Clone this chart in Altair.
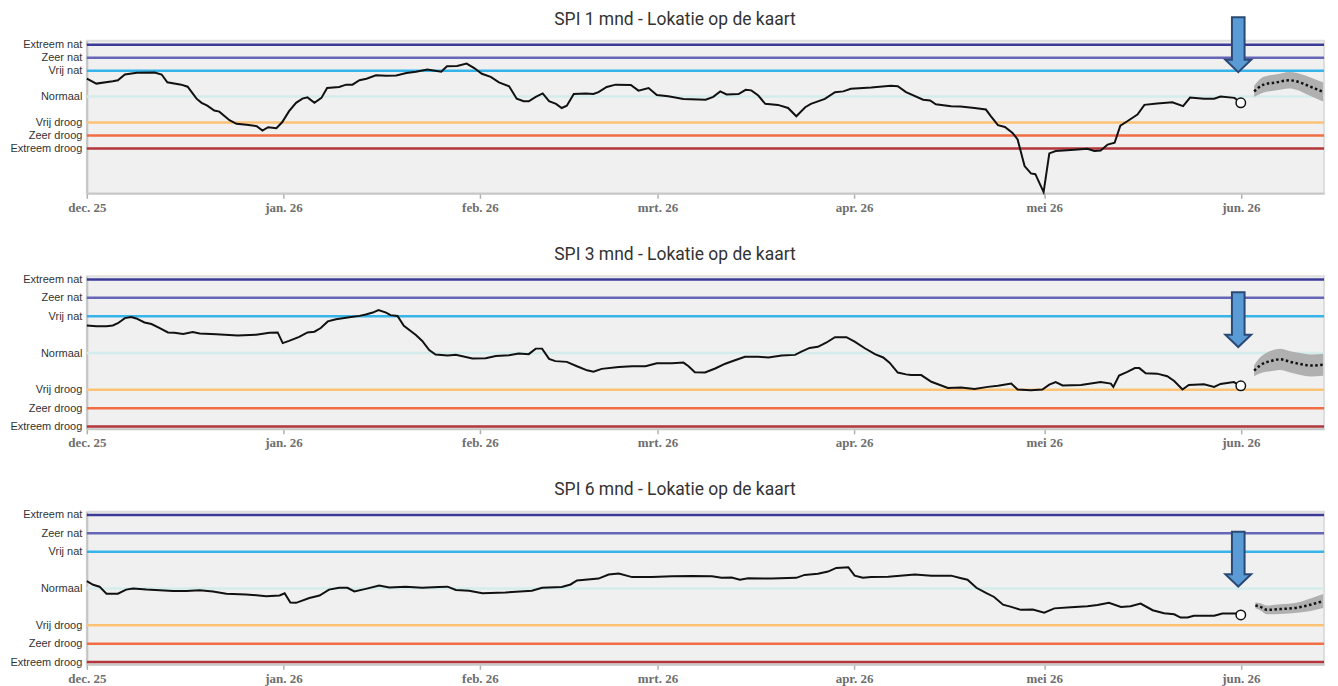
import altair as alt
import pandas as pd

# ---------------- data ----------------
START = "2025-12-01"

CLASS_LABELS = ["Extreem nat", "Zeer nat", "Vrij nat", "Normaal", "Vrij droog", "Zeer droog", "Extreem droog"]
CLASS_VALUES = [2.0, 1.5, 1.0, 0.0, -1.0, -1.5, -2.0]
CLASS_COLORS = ["#3b3b97", "#6666b6", "#36b3e8", "#d4ecec", "#fdc274", "#f26c44", "#b2363b"]

MONTH_TICKS = ["2025-12", "2026-01", "2026-02", "2026-03", "2026-04", "2026-05", "2026-06"]
MONTH_LABELS = ["dec. 25", "jan. 26", "feb. 26", "mrt. 26", "apr. 26", "mei 26", "jun. 26"]

TITLES = ["SPI 1 mnd - Lokatie op de kaart", "SPI 3 mnd - Lokatie op de kaart", "SPI 6 mnd - Lokatie op de kaart"]

# days since 1 Dec 2025
SPI1_DAY = [0, 1.5, 4.1, 4.9, 6.0, 7.9, 10.7, 11.8, 12.7, 14.9,
            15.9, 17.3, 18.1, 19.0, 20.1, 20.9, 22.5, 23.6, 25.2, 26.8,
            27.7, 28.6, 29.9, 30.8, 31.9, 33.0, 34.0, 34.8, 35.9, 37.0,
            37.9, 39.8, 40.9, 41.9, 43.0, 44.1, 45.6, 47.2, 48.8, 50.4,
            51.9, 53.7, 55.9, 56.8, 58.4, 59.9, 61.1, 62.3, 63.7, 65.0,
            66.6, 67.8, 68.9, 69.7, 70.8, 71.9, 72.9, 74.0, 74.9, 75.7,
            76.8, 78.7, 79.9, 80.7, 82.0, 83.4, 85.8, 87.0, 88.6, 89.9,
            91.7, 94.1, 97.6, 98.8, 99.9, 100.9, 102.8, 103.9, 104.8, 105.9,
            107.0, 109.0, 110.6, 111.9, 113.3, 114.2, 116.4, 118.0, 119.3, 120.5,
            123.7, 126.8, 127.9, 129.2, 131.9, 133.0, 133.9, 136.3, 137.8, 140.0,
            141.8, 142.6, 143.7, 144.8, 146.0, 146.8, 147.9, 148.9, 149.6, 150.9,
            151.8, 152.8, 155.2, 157.8, 158.9, 159.9, 161.0, 162.1, 163.0, 164.1,
            165.7, 166.8, 168.8, 171.2, 172.9, 174.0, 176.2, 177.8, 178.8, 181.0,
            182.0]
SPI1_VAL = [0.69, 0.50, 0.59, 0.63, 0.85, 0.92, 0.93, 0.85, 0.55, 0.46,
            0.38, -0.08, -0.24, -0.35, -0.54, -0.58, -0.91, -1.05, -1.09, -1.14,
            -1.31, -1.18, -1.22, -0.99, -0.56, -0.24, -0.08, -0.03, -0.24, -0.05,
            0.33, 0.37, 0.46, 0.46, 0.63, 0.69, 0.82, 0.80, 0.81, 0.91,
            0.96, 1.04, 0.96, 1.17, 1.18, 1.27, 1.10, 0.88, 0.76, 0.55,
            0.40, -0.08, -0.18, -0.18, -0.01, 0.12, -0.18, -0.28, -0.44, -0.35,
            0.10, 0.12, 0.10, 0.17, 0.37, 0.46, 0.45, 0.23, 0.33, 0.06,
            0.01, -0.09, -0.12, -0.01, 0.20, 0.08, 0.10, 0.26, 0.24, 0.04,
            -0.28, -0.32, -0.44, -0.76, -0.41, -0.28, -0.09, 0.17, 0.20, 0.30,
            0.35, 0.42, 0.40, 0.17, -0.12, -0.15, -0.30, -0.37, -0.38, -0.44,
            -0.50, -0.76, -1.10, -1.17, -1.40, -1.65, -2.68, -2.96, -2.99, -3.68,
            -2.19, -2.10, -2.06, -2.01, -2.10, -2.08, -1.85, -1.78, -1.12, -0.95,
            -0.69, -0.32, -0.27, -0.22, -0.37, -0.04, -0.08, -0.08, 0.00, -0.05,
            -0.24]

SPI3_DAY = [0, 1.5, 3.1, 4.1, 4.9, 6.0, 7.0, 7.8, 9.1, 10.2,
            11.5, 12.8, 13.8, 15.2, 16.7, 17.8, 20.4, 23.8, 26.7, 28.8,
            30.1, 30.9, 31.9, 33.5, 34.8, 35.9, 36.9, 38.0, 39.3, 41.4,
            43.0, 44.0, 45.1, 46.0, 47.2, 47.9, 49.0, 50.0, 51.9, 52.9,
            54.0, 55.0, 56.9, 58.2, 60.8, 62.9, 64.5, 66.6, 68.1, 69.7,
            70.8, 71.8, 72.9, 73.9, 75.7, 77.3, 78.9, 79.9, 81.2, 83.9,
            86.0, 88.1, 89.9, 92.3, 94.1, 94.9, 95.9, 97.5, 99.1, 100.7,
            102.0, 103.8, 105.9, 107.5, 109.6, 111.7, 112.7, 114.0, 115.3, 116.6,
            118.0, 119.8, 121.1, 122.7, 124.3, 125.6, 126.6, 127.9, 129.2, 130.0,
            131.6, 133.2, 135.8, 137.9, 140.0, 142.1, 143.7, 145.8, 146.8, 148.9,
            150.7, 151.8, 152.8, 153.9, 156.8, 159.9, 161.5, 161.9, 162.8, 164.1,
            165.3, 166.0, 167.0, 168.8, 170.4, 171.5, 172.8, 173.8, 176.2, 177.8,
            178.8, 180.9, 182.0]
SPI3_VAL = [0.75, 0.73, 0.73, 0.75, 0.81, 0.95, 0.98, 0.94, 0.83, 0.79,
            0.68, 0.56, 0.55, 0.52, 0.57, 0.53, 0.51, 0.48, 0.50, 0.55,
            0.56, 0.27, 0.33, 0.44, 0.56, 0.58, 0.68, 0.86, 0.92, 0.97,
            1.01, 1.05, 1.10, 1.17, 1.10, 1.03, 1.01, 0.74, 0.49, 0.33,
            0.08, -0.04, -0.07, -0.05, -0.15, -0.14, -0.08, -0.06, -0.01, -0.03,
            0.12, 0.12, -0.16, -0.22, -0.24, -0.36, -0.47, -0.51, -0.43, -0.38,
            -0.36, -0.36, -0.28, -0.28, -0.26, -0.36, -0.52, -0.53, -0.42, -0.29,
            -0.21, -0.10, -0.10, -0.12, -0.07, -0.05, 0.04, 0.14, 0.17, 0.28,
            0.43, 0.43, 0.31, 0.13, -0.03, -0.12, -0.26, -0.53, -0.58, -0.60,
            -0.60, -0.78, -0.95, -0.94, -0.98, -0.92, -0.89, -0.83, -0.99, -1.01,
            -0.99, -0.86, -0.79, -0.88, -0.87, -0.79, -0.83, -0.92, -0.61, -0.51,
            -0.41, -0.41, -0.55, -0.56, -0.63, -0.76, -0.99, -0.87, -0.85, -0.92,
            -0.84, -0.79, -0.89]

SPI6_DAY = [0, 1.0, 2.0, 3.1, 4.9, 6.2, 7.3, 9.4, 11.5, 13.6,
            15.7, 17.8, 19.9, 22.0, 25.1, 28.3, 30.4, 31.2, 32.1, 33.0,
            35.1, 36.7, 38.2, 39.8, 41.1, 42.2, 44.0, 46.1, 47.7, 50.3,
            52.9, 55.5, 56.9, 58.2, 60.3, 62.4, 66.0, 70.2, 71.8, 74.9,
            76.3, 77.3, 80.7, 82.3, 83.9, 86.0, 89.1, 92.3, 95.4, 98.6,
            100.1, 101.7, 103.0, 104.3, 108.0, 111.9, 113.2, 115.3, 116.9, 118.2,
            120.1, 121.1, 122.4, 123.7, 126.4, 129.2, 130.6, 133.2, 136.3, 137.9,
            138.9, 140.3, 141.8, 143.1, 144.5, 145.8, 147.3, 149.2, 151.0, 152.6,
            155.2, 157.8, 159.4, 161.2, 163.1, 164.6, 166.2, 168.1, 169.9, 171.5,
            172.5, 173.6, 174.6, 177.8, 179.1, 181.4, 182.0]
SPI6_VAL = [0.20, 0.10, 0.05, -0.14, -0.14, -0.03, 0.00, -0.03, -0.05, -0.07,
            -0.07, -0.05, -0.08, -0.14, -0.16, -0.21, -0.19, -0.13, -0.38, -0.39,
            -0.26, -0.19, -0.03, 0.02, 0.02, -0.08, -0.01, 0.08, 0.03, 0.05,
            0.02, 0.04, 0.05, -0.04, -0.06, -0.13, -0.11, -0.06, 0.02, 0.04,
            0.11, 0.22, 0.27, 0.38, 0.41, 0.31, 0.31, 0.33, 0.34, 0.33,
            0.29, 0.30, 0.24, 0.28, 0.27, 0.29, 0.37, 0.40, 0.46, 0.56,
            0.58, 0.35, 0.29, 0.31, 0.32, 0.36, 0.38, 0.35, 0.35, 0.28,
            0.24, 0.02, -0.12, -0.23, -0.44, -0.50, -0.58, -0.57, -0.66, -0.54,
            -0.51, -0.48, -0.45, -0.39, -0.50, -0.48, -0.41, -0.59, -0.67, -0.70,
            -0.79, -0.79, -0.74, -0.74, -0.68, -0.68, -0.72]

# forecasts (median + half width of the uncertainty band)
FC1_DAY = [184.1, 185.6, 187.7, 189.6, 190.9, 192.2, 193.8, 195.0]
FC1_VAL = [0.20, 0.46, 0.55, 0.63, 0.58, 0.46, 0.30, 0.18]
FC1_HALF = [0.22, 0.30, 0.31, 0.32, 0.33, 0.35, 0.36, 0.37]

FC2_DAY = [184.1, 185.1, 186.9, 188.2, 189.8, 191.4, 193.0, 195.0]
FC2_VAL = [-0.48, -0.33, -0.21, -0.17, -0.24, -0.30, -0.34, -0.32]
FC2_HALF = [0.15, 0.22, 0.28, 0.29, 0.29, 0.30, 0.30, 0.30]

FC3_DAY = [184.3, 185.1, 186.1, 188.2, 190.9, 193.0, 195.0]
FC3_VAL = [-0.46, -0.50, -0.58, -0.56, -0.52, -0.44, -0.34]
FC3_HALF = [0.08, 0.10, 0.12, 0.13, 0.14, 0.17, 0.19]

# "today" arrow annotation
ARROW_DAY = [181.6, 181.6, 181.6]
ARROW_SPI = [2.0, 0.91, 0.80]

Y_DOMAINS = [[-3.73, 2.154], [-2.06, 2.09], [-2.06, 2.09]]
TITLE_OFFSETS = [-29, -4, -4]

# ---------------- helpers ----------------
def to_dates(days):
    return pd.Timestamp(START) + pd.to_timedelta(days, unit="D")


y_label_expr = " : ".join(
    f"datum.value == {v} ? '{l}'" for v, l in zip(CLASS_VALUES, CLASS_LABELS)
) + " : ''"
x_label_expr = " : ".join(
    f"timeFormat(datum.value, '%Y-%m') == '{t}' ? '{l}'" for t, l in zip(MONTH_TICKS, MONTH_LABELS)
) + " : ''"

x_values = [alt.DateTime(year=int(t[:4]), month=int(t[5:]), date=1) for t in MONTH_TICKS]
x_scale = alt.Scale(domain=[alt.DateTime(year=2025, month=12, date=1),
                            alt.DateTime(year=2026, month=6, date=14, hours=3)])
x_axis = alt.Axis(values=x_values, labelExpr=x_label_expr, title=None, grid=False,
                  ticks=True, tickSize=5, tickColor="#b0b0b0", tickWidth=1.5,
                  domainColor="#c8c8c8", domainWidth=2,
                  labelFont="Liberation Serif", labelFontWeight="bold", labelFontSize=13,
                  labelColor="#6e6e6e", labelPadding=3, labelOverlap=False, labelFlush=False)
y_axis = alt.Axis(values=CLASS_VALUES, labelExpr=y_label_expr, title=None, grid=False,
                  ticks=False, domain=True, domainColor="#c4c4c4", domainWidth=2,
                  labelFont="Liberation Sans", labelFontSize=11, labelColor="#333333",
                  labelPadding=5)

ARROW_PATH = "M -0.23 -1 L 0.23 -1 L 0.23 0.55 L 0.47 0.55 L 0 1 L -0.47 0.55 L -0.23 0.55 Z"

classes_df = pd.DataFrame({"label": CLASS_LABELS, "value": CLASS_VALUES})


def panel(i, days, vals, fdays, fvals, fhalf):
    y_scale = alt.Scale(domain=Y_DOMAINS[i], nice=False, zero=False)

    obs = pd.DataFrame({"date": to_dates(days), "spi": vals})
    last = obs.tail(1)
    fc = pd.DataFrame({"date": to_dates(fdays), "spi": fvals,
                       "lo": [v - h for v, h in zip(fvals, fhalf)],
                       "hi": [v + h for v, h in zip(fvals, fhalf)]})
    arrow = pd.DataFrame({"date": to_dates([ARROW_DAY[i]]), "spi": [ARROW_SPI[i]]})

    X = alt.X("date:T", scale=x_scale, axis=x_axis)

    rules = alt.Chart(classes_df).mark_rule(strokeWidth=2.5).encode(
        y=alt.Y("value:Q", scale=y_scale, axis=y_axis),
        color=alt.Color("label:N", scale=alt.Scale(domain=CLASS_LABELS, range=CLASS_COLORS), legend=None),
    )
    band = alt.Chart(fc).mark_area(color="#b0b0b0", opacity=1, interpolate="monotone").encode(
        x=X,
        y=alt.Y("lo:Q", scale=y_scale, axis=y_axis),
        y2="hi:Q",
    )
    fline = alt.Chart(fc).mark_line(color="#111111", strokeWidth=2.5, strokeDash=[2.5, 2.5],
                                    interpolate="monotone").encode(
        x=X, y=alt.Y("spi:Q", scale=y_scale, axis=y_axis),
    )
    line = alt.Chart(obs).mark_line(color="#111111", strokeWidth=2).encode(
        x=X, y=alt.Y("spi:Q", scale=y_scale, axis=y_axis),
    )
    dot = alt.Chart(last).mark_point(filled=True, fill="white", stroke="#111111", strokeWidth=1.5,
                                     size=90, opacity=1).encode(
        x=X, y=alt.Y("spi:Q", scale=y_scale, axis=y_axis),
    )
    arr = alt.Chart(arrow).mark_point(shape=ARROW_PATH, size=3025, filled=True, fill="#5b9bd5",
                                      stroke="#2a4a75", strokeWidth=2, opacity=1).encode(
        x=X, y=alt.Y("spi:Q", scale=y_scale, axis=y_axis),
    )
    return alt.layer(rules, band, fline, line, dot, arr).properties(
        width=1240, height=153,
        title=alt.TitleParams(TITLES[i], font="Roboto", fontSize=17.5, fontWeight="normal",
                              color="#333333", anchor="middle", frame="group",
                              baseline="alphabetic", offset=TITLE_OFFSETS[i], dx=-30.5),
    )


p1 = panel(0, SPI1_DAY, SPI1_VAL, FC1_DAY, FC1_VAL, FC1_HALF)
p2 = panel(1, SPI3_DAY, SPI3_VAL, FC2_DAY, FC2_VAL, FC2_HALF)
p3 = panel(2, SPI6_DAY, SPI6_VAL, FC3_DAY, FC3_VAL, FC3_HALF)

chart = alt.vconcat(p1, p2, p3, spacing=29).properties(
    padding={"left": 0, "top": 1, "right": 0, "bottom": 0},
    background="white",
).configure_view(fill="#f0f0f0", stroke="#dedede", strokeWidth=2)

chart.save("out.html", embed_options={"renderer": "svg", "actions": False})
